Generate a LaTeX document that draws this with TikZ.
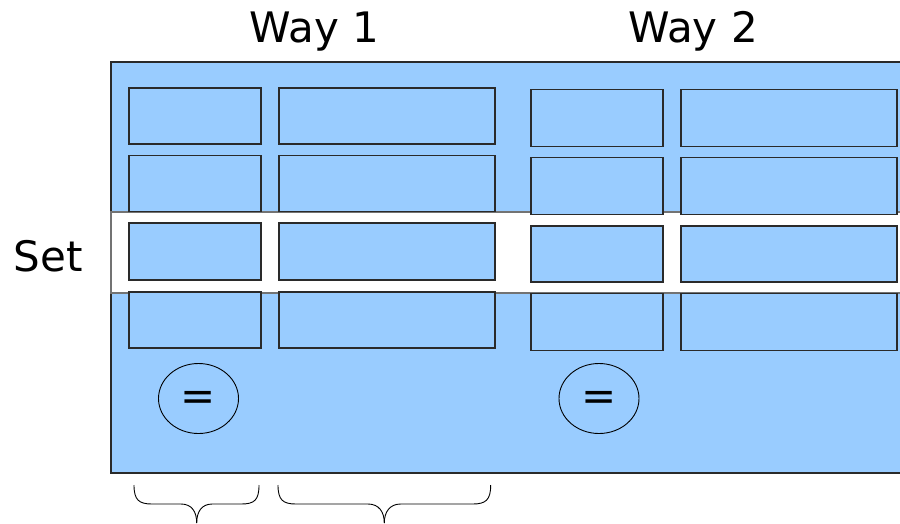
\documentclass[tikz,border=0pt]{standalone}
\usepackage{fontspec}
\usetikzlibrary{shapes.geometric}
\setmainfont{DejaVu Sans}
\definecolor{cacheblue}{HTML}{99CCFF}
\definecolor{edgegray}{HTML}{2A2A2A}
\begin{document}
\begin{tikzpicture}[x=1pt,y=-1pt,
  line width=1.2pt,
  label/.style={font=\fontsize{42}{50}\selectfont, anchor=base, inner sep=0pt},
  cell/.style={draw=edgegray, fill=cacheblue, inner sep=0pt, outer sep=0pt, minimum height=#1},
  tagcell/.style={cell=#1, minimum width=132pt},
  datacell/.style={cell=#1, minimum width=216pt},
  cmp/.style={draw=black, ellipse, line width=0.9pt, minimum width=80pt, minimum height=70pt, inner sep=0pt},
  eqsign/.style={font=\fontsize{42}{50}\selectfont, inner sep=0pt},
  brace/.style={draw=black, line width=0.9pt}
]
\useasboundingbox (0,0) rectangle (900,523);

% cache body
\fill[cacheblue] (111,62) rectangle (900,473);
\draw[edgegray] (900,62) -- (111,62) -- (111,473) -- (900,473);

% highlighted set
\fill[white] (111,212) rectangle (900,293);
\draw[black!55] (900,212) -- (111,212) -- (111,293) -- (900,293);

% way 1
\node[tagcell=56pt]  (a1) at (195,116)   {};
\node[datacell=56pt] (b1) at (387,116)   {};
\node[tagcell=56pt]  (a2) at (195,183.7) {};
\node[datacell=56pt] (b2) at (387,183.7) {};
\node[tagcell=57pt]  (a3) at (195,251.5) {};
\node[datacell=57pt] (b3) at (387,251.5) {};
\node[tagcell=56pt]  (a4) at (195,320)   {};
\node[datacell=56pt] (b4) at (387,320)   {};

% way 2
\node[tagcell=57pt]  (c1) at (597,118)   {};
\node[datacell=57pt] (d1) at (789,118)   {};
\node[tagcell=57pt]  (c2) at (597,185.8) {};
\node[datacell=57pt] (d2) at (789,185.8) {};
\node[tagcell=56pt]  (c3) at (597,254)   {};
\node[datacell=56pt] (d3) at (789,254)   {};
\node[tagcell=57pt]  (c4) at (597,322)   {};
\node[datacell=57pt] (d4) at (789,322)   {};

% tag comparators
\node[cmp] (eq1) at (198.5,398.5) {};
\node[cmp] (eq2) at (599,398.5) {};
\node[eqsign] (eq1s) at ([yshift=-2pt]eq1.center) {=};
\node[eqsign] (eq2s) at ([yshift=-2pt]eq2.center) {=};

% titles
\node[label] (w1) at (314.5,42.3) {Way 1};
\node[label] (w2) at (693,42.3) {Way 2};
\node[label] (set) at (48,271.5) {Set};

% braces under the columns
\draw[brace] (134,485) .. controls (134,500) and (139,504) .. (152,504)
  -- (181,504) .. controls (192,504) and (196.7,512) .. (196.7,523);
\draw[brace] (259,485) .. controls (259,500) and (254.4,504) .. (241.4,504)
  -- (212.4,504) .. controls (201.4,504) and (196.7,512) .. (196.7,523);
\draw[brace] (278,485) .. controls (278,500) and (283,504) .. (296,504)
  -- (368,504) .. controls (379,504) and (384.3,512) .. (384.3,523);
\draw[brace] (490.7,485) .. controls (490.7,500) and (485.7,504) .. (472.7,504)
  -- (400.7,504) .. controls (389.7,504) and (384.3,512) .. (384.3,523);
\end{tikzpicture}
\end{document}
